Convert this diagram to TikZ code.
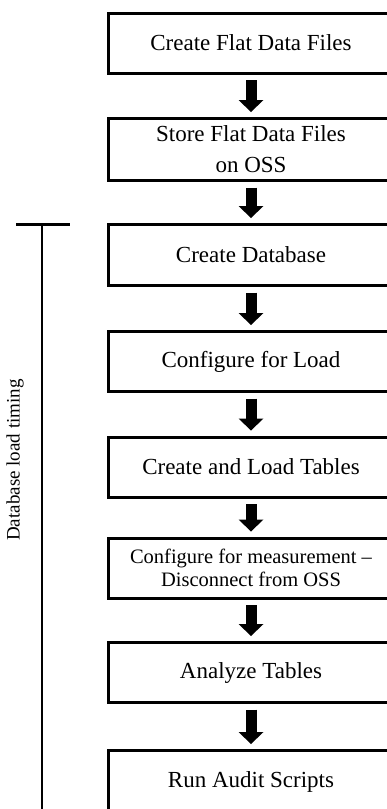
\documentclass[tikz,border=0pt]{standalone}
\usepackage{fontspec}
\setmainfont{Liberation Serif}
\usetikzlibrary{arrows.meta}
\begin{document}
\begin{tikzpicture}[x=1pt,y=-1pt,
  stepbox/.style={draw, line width=3pt, minimum width=285pt, minimum height=60pt,
    align=center, inner sep=0pt, font=\fontsize{23}{31}\selectfont},
  flow/.style={line width=11pt, line cap=butt, shorten <=5.5pt, shorten >=5pt,
    -{Triangle[width=25pt,length=12pt,line width=0pt]}},
  bracket/.style={line width=3pt}]
\useasboundingbox (0,0) rectangle (387,809);
\clip (0,0) rectangle (387,809);

% process steps
\node[stepbox] (s1) at (251,43) {Create Flat Data Files};
\node[stepbox, minimum height=62pt] (s2) at (251,149.5) {Store Flat Data Files\\on OSS};
\node[stepbox, minimum height=61pt] (s3) at (251,255) {Create Database};
\node[stepbox] (s4) at (251,361.5) {Configure for Load};
\node[stepbox] (s5) at (251,467) {Create and Load Tables};
\node[stepbox, font=\fontsize{20.5}{23.5}\selectfont] (s6) at (251,568) {Configure for measurement --\\Disconnect from OSS};
\node[stepbox] (s7) at (251,672.5) {Analyze Tables};
\node[stepbox, minimum height=63pt] (s8) at (251,782) {Run Audit Scripts};

% flow arrows
\foreach \a/\b in {s1/s2,s2/s3,s3/s4,s4/s5,s5/s6,s6/s7,s7/s8}
  \draw[flow] (\a) -- (\b);

% timing bracket
\coordinate (bl) at (16,224);
\coordinate (br) at (70,224);
\coordinate (bt) at (42,224);
\coordinate (bb) at (42,815);
\draw[bracket] (bl) -- (br);
\draw[line width=2.6pt] (bt) -- (bb);
\node[rotate=90, inner sep=0pt, font=\fontsize{19}{22}\selectfont] (lbl) at (15,460) {Database load timing};
\end{tikzpicture}
\end{document}
